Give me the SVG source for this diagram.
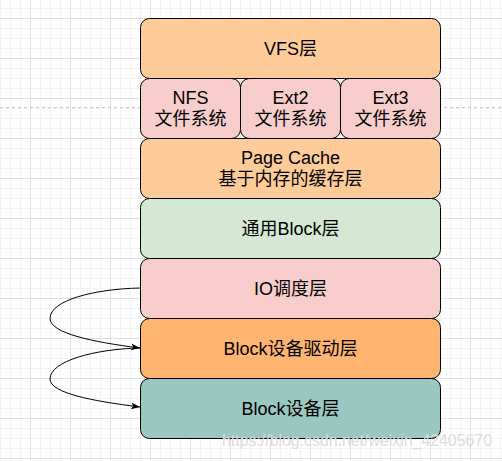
<svg xmlns="http://www.w3.org/2000/svg" width="502" height="461" viewBox="0 0 502 461">
  <defs>
    <pattern id="minor" patternUnits="userSpaceOnUse" x="0" y="8" width="10" height="10">
      <path d="M0.5 0 V10 M0 0.5 H10" stroke="#f3f3f3" stroke-width="1" fill="none"/>
    </pattern>
    <pattern id="major" patternUnits="userSpaceOnUse" x="30" y="18" width="40" height="40">
      <path d="M0.5 0 V40 M0 0.5 H40" stroke="#e0e0e0" stroke-width="1" fill="none"/>
    </pattern>
    <marker id="arrow" markerUnits="userSpaceOnUse" markerWidth="12" markerHeight="10" refX="9" refY="3.5" orient="auto">
      <path d="M0,0 L9,3.5 L0,7 L2.2,3.5 Z" fill="#000"/>
    </marker>
    <style>
      .box { stroke: #000; stroke-width: 1; }
      .t { font-family: "Liberation Sans", "Noto Sans CJK SC", sans-serif; font-size: 18px; fill: #000; text-anchor: middle; }
      .edge { fill: none; stroke: #000; stroke-width: 1; marker-end: url(#arrow); }
      .wm { font-family: "Liberation Sans", "Noto Sans CJK SC", sans-serif; font-size: 17px; fill: #dcdcdc; }
    </style>
  </defs>

  <rect width="502" height="461" fill="#ffffff"/>
  <rect width="502" height="461" fill="url(#minor)"/>
  <rect width="502" height="461" fill="url(#major)"/>
  <line x1="0" y1="107.5" x2="502" y2="107.5" stroke="#c8c8c8" stroke-width="1" stroke-dasharray="3 3"/>

  <g id="vfs">
    <rect class="box" x="140.5" y="18.5" width="300" height="60" rx="9" fill="#ffcc99"/>
    <text class="t" x="290.5" y="54.5">VFS层</text>
  </g>
  <g id="nfs">
    <rect class="box" x="140.5" y="78.5" width="100" height="60" rx="9" fill="#f8cecc"/>
    <text class="t" x="190.5" y="104">NFS</text>
    <text class="t" x="190.5" y="125">文件系统</text>
  </g>
  <g id="ext2">
    <rect class="box" x="240.5" y="78.5" width="100" height="60" rx="9" fill="#f8cecc"/>
    <text class="t" x="290.5" y="104">Ext2</text>
    <text class="t" x="290.5" y="125">文件系统</text>
  </g>
  <g id="ext3">
    <rect class="box" x="340.5" y="78.5" width="100" height="60" rx="9" fill="#f8cecc"/>
    <text class="t" x="390.5" y="104">Ext3</text>
    <text class="t" x="390.5" y="125">文件系统</text>
  </g>
  <g id="pagecache">
    <rect class="box" x="140.5" y="138.5" width="300" height="60" rx="9" fill="#ffcc99"/>
    <text class="t" x="290.5" y="164">Page Cache</text>
    <text class="t" x="290.5" y="185">基于内存的缓存层</text>
  </g>
  <g id="generic-block">
    <rect class="box" x="140.5" y="198.5" width="300" height="60" rx="9" fill="#d5e8d4"/>
    <text class="t" x="290.5" y="234.5">通用Block层</text>
  </g>
  <g id="io-scheduler">
    <rect class="box" x="140.5" y="258.5" width="300" height="60" rx="9" fill="#f8cecc"/>
    <text class="t" x="290.5" y="294.5">IO调度层</text>
  </g>
  <g id="block-driver">
    <rect class="box" x="140.5" y="318.5" width="300" height="60" rx="9" fill="#ffb570"/>
    <text class="t" x="290.5" y="354.5">Block设备驱动层</text>
  </g>
  <g id="block-device">
    <rect class="box" x="140.5" y="378.5" width="300" height="60" rx="9" fill="#9ac7bf"/>
    <text class="t" x="290.5" y="414.5">Block设备层</text>
  </g>

  <g id="connectors">
    <path class="edge" d="M140 288 C 95 289 50 300 50 318.5 C 50 333 92 342 140 348"/>
    <path class="edge" d="M140 348 C 95 349 50 361 50 379 C 50 393 92 401 140 407"/>
  </g>

  <text class="wm" x="222" y="446" textLength="270" lengthAdjust="spacingAndGlyphs">https://blog.csdn.net/weixin_42405670</text>
</svg>
